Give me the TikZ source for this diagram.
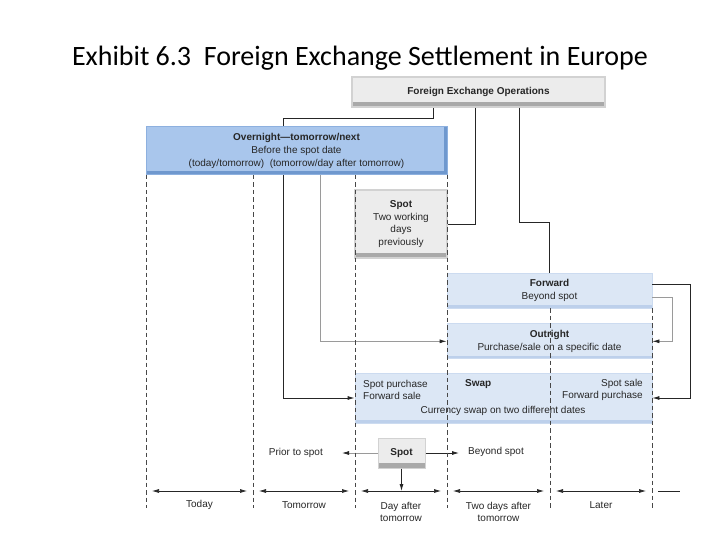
\documentclass[tikz,border=0pt]{standalone}
\usepackage{fontspec}
\setmainfont{Liberation Sans}
\newfontfamily\exhibitfont{Carlito}
\usetikzlibrary{arrows.meta,positioning,calc,backgrounds}
\definecolor{Ink}{HTML}{262626}
\definecolor{LineSoft}{HTML}{9A9A9A}
\definecolor{GreyBody}{HTML}{ECECEC}
\definecolor{GreyEdge}{HTML}{D2D2D2}
\definecolor{GreyDeep}{HTML}{A9A9A9}
\definecolor{BlueBody}{HTML}{A9C6EC}
\definecolor{BlueEdge}{HTML}{8DB0DF}
\definecolor{BlueDeep}{HTML}{6F98CE}
\definecolor{PaleBody}{HTML}{DCE7F5}
\definecolor{PaleEdge}{HTML}{CCDBF0}
\definecolor{PaleDeep}{HTML}{BDD0EB}
\tikzset{
  txt/.style={text=Ink,inner sep=1pt,align=center},
  greybox/.style={fill=GreyBody,draw=GreyEdge,line width=1.4pt,align=center,text=Ink,inner sep=2pt,
    path picture={\fill[GreyDeep] (path picture bounding box.south west) rectangle ([yshift=5pt]path picture bounding box.south east);}},
  bluebox/.style={fill=BlueBody,draw=BlueEdge,line width=1pt,align=center,text=Ink,inner sep=2pt,
    path picture={\fill[BlueDeep] (path picture bounding box.south west) rectangle ([yshift=4pt]path picture bounding box.south east);
                  \fill[BlueDeep] ([xshift=-3pt]path picture bounding box.south east) rectangle (path picture bounding box.north east);}},
  palebox/.style={fill=PaleBody,draw=PaleEdge,line width=.8pt,align=center,text=Ink,inner sep=2pt,
    path picture={\fill[PaleDeep] (path picture bounding box.south west) rectangle ([yshift=3pt]path picture bounding box.south east);}},
  link/.style={draw=Ink,line width=.8pt},
  flow/.style={-{Latex[length=7pt,width=4pt]},draw=Ink,line width=.8pt},
  flowlight/.style={-{Latex[length=7pt,width=4pt,color=Ink]},draw=LineSoft,line width=.8pt},
  linklight/.style={draw=LineSoft,line width=.8pt},
  span/.style={{Latex[length=7pt,width=4pt]}-{Latex[length=7pt,width=4pt]},draw=Ink,line width=.7pt},
  grid/.style={draw=Ink!85,line width=.75pt,dash pattern=on 4.5pt off 3pt}
}
\begin{document}
\begin{tikzpicture}[x=1pt,y=-1pt,font=\fontsize{10}{12.8}\selectfont]
\begin{scope}[on background layer]
  \fill[white] (0,0) rectangle (720,540);
\end{scope}
\useasboundingbox (0,0) rectangle (720,540);

\node[txt,font=\exhibitfont\fontsize{28}{32}\selectfont,text=black] (title) at (360,58) {Exhibit 6.3\ \ Foreign Exchange Settlement in Europe};

% boxes
\node[greybox,minimum width=253pt,minimum height=30pt] (fxo) at (478.5,92) {\textbf{Foreign Exchange Operations}};
\node[bluebox,minimum width=301pt,minimum height=48pt] (night) at (296.5,151)
  {\textbf{Overnight---tomorrow/next}\\Before the spot date\\(today/tomorrow)\ \ (tomorrow/day after tomorrow)};
\node[greybox,minimum width=92pt,minimum height=68pt] (spottop) at (401,224) {\textbf{Spot}\\Two working\\days\\previously};
\node[palebox,minimum width=205pt,minimum height=35pt] (fwd) at (549.5,290.5) {\textbf{Forward}\\Beyond spot};
\node[palebox,minimum width=205pt,minimum height=35pt,below=15pt of fwd] (outr) {\textbf{Outright}\\Purchase/sale on a specific date};
\node[palebox,minimum width=297pt,minimum height=50pt] (swap) at (503.5,398) {};
\node[txt,anchor=west,align=left] (swapl) at (362,390) {Spot purchase\\Forward sale};
\node[txt,anchor=west] (swapt) at (464,384) {\textbf{Swap}};
\node[txt,anchor=east,align=right] (swapr) at (644,390) {Spot sale\\Forward purchase};
\node[txt] (swapb) at (503,411) {Currency swap on two different dates};
\node[greybox,minimum width=47pt,minimum height=30pt,line width=1pt] (spotb) at (401.5,453) {\textbf{Spot}};

% connectors
\begin{scope}[on background layer]
  \draw[flow] ([xshift=-45.5pt]fxo.south) -- ++(0,11) -| ([xshift=-71pt]swap.west) -- (swap.west);
\end{scope}
\draw[link] ([xshift=-3.5pt]fxo.south) |- (spottop.east);
\draw[link] ([xshift=40.5pt]fxo.south) -- ++(0,115) -| (fwd.north);
\draw[flowlight] ([xshift=23.5pt]night.south) |- (outr.west);
\draw[flow] ([yshift=6.5pt]fwd.east) -- ++(38,0) |- (swap.east);
\draw[linklight] ([yshift=-6.5pt]fwd.east) -- ++(20,0) |- ([xshift=4pt]outr.east);
\draw[flow] ([xshift=4pt]outr.east) -- (outr.east);

\coordinate (prior) at (342,453);
\coordinate (beyond) at (459,453);
\coordinate (dayafter) at (401.5,491);
\draw[flowlight] (spotb.west) -- (prior);
\draw[flow] (spotb.east) -- (beyond);
\draw[flow] (spotb.south) -- (dayafter);
\node[txt,left=18pt of prior] (priorlbl) {Prior to spot};
\node[txt,right=8pt of beyond,yshift=1.5pt] (beyondlbl) {Beyond spot};

% day grid
\foreach \x/\y in {146/175,253/175,355/175,447/175,550/308,652/308}
  \draw[grid] (\x,\y) -- (\x,508);
\foreach \a/\b in {146/253,253/355,355/447,447/550,550/652}
  \draw[span] (\a+6,491) -- (\b-6,491);
\draw[link] (658,491) -- (680,491);
\foreach \x/\lbl in {199.5/Today,304/Tomorrow,601/Later}
  \node[txt] at (\x,505) {\lbl};
\node[txt] (dat) at (401,512) {Day after\\tomorrow};
\node[txt] (tdat) at (498.5,512) {Two days after\\tomorrow};
\end{tikzpicture}
\end{document}
